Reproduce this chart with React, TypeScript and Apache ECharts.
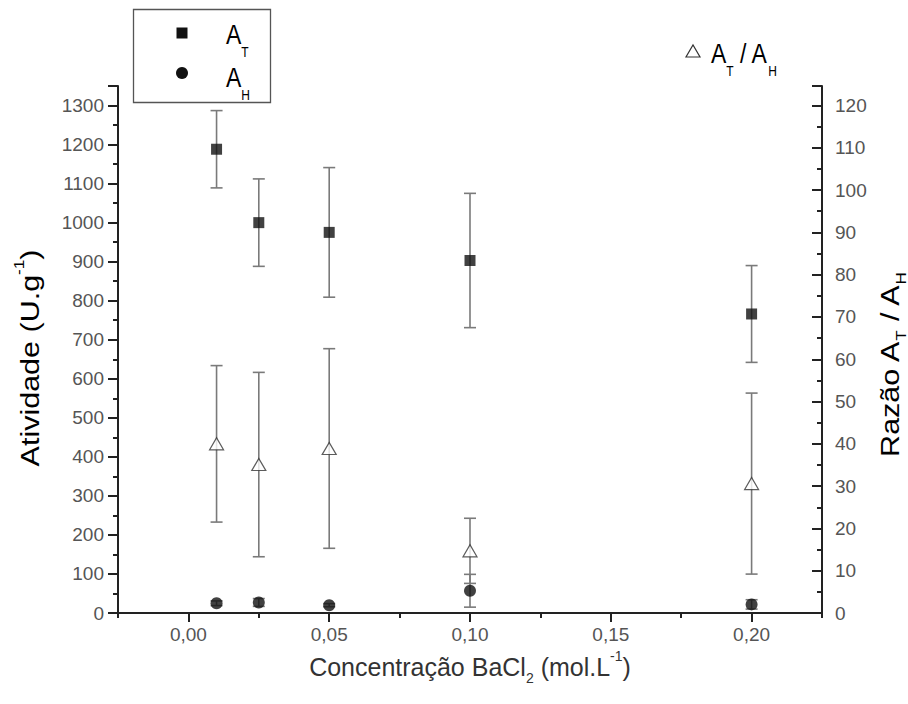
import React, { useEffect, useRef } from 'react';
import * as echarts from 'echarts';

// ---- data ----
const concentrations = [0.01, 0.025, 0.05, 0.1, 0.2];
const atMean = [1188, 1000, 975, 903, 766];
const atErr = [99, 112, 166, 172, 124];
const ahMean = [25, 27, 20, 57, 22];
const ahErr = [6, 10, 4, 42, 12];
const ratioMean = [40, 35.1, 38.9, 14.7, 30.6];
const ratioErr = [18.5, 21.8, 23.6, 7.7, 21.4];

const xTickValues = [0, 0.05, 0.1, 0.15, 0.2];
const xMinorTickValues = [-0.025, 0.025, 0.075, 0.125, 0.175, 0.225];
const xMin = -0.025;
const xMax = 0.225;
const leftMax = 1350;
const leftInterval = 100;
const rightInterval = 10;
const rightMax = (leftMax * 120) / 1300;

const FONT = "'Liberation Sans', Arial, sans-serif";

function errorBars(name: string, mean: number[], err: number[], yAxisIndex: number) {
  return {
    type: 'custom',
    name,
    xAxisIndex: 0,
    yAxisIndex,
    z: 2,
    silent: true,
    data: concentrations.map((c, i) => [c, mean[i] - err[i], mean[i] + err[i]]),
    encode: { x: 0, y: [1, 2] },
    renderItem: (_params: any, api: any) => {
      const x = api.value(0);
      const lo = api.coord([x, api.value(1)]);
      const hi = api.coord([x, api.value(2)]);
      const hw = 6;
      const style = { stroke: '#7a7a7a', lineWidth: 1.6 };
      return {
        type: 'group',
        children: [
          { type: 'line', shape: { x1: lo[0], y1: lo[1], x2: hi[0], y2: hi[1] }, style },
          { type: 'line', shape: { x1: hi[0] - hw, y1: hi[1], x2: hi[0] + hw, y2: hi[1] }, style },
          { type: 'line', shape: { x1: lo[0] - hw, y1: lo[1], x2: lo[0] + hw, y2: lo[1] }, style },
        ],
      };
    },
  };
}

const nameRich = {
  n: { fontSize: 25, lineHeight: 36, fontFamily: FONT, color: '#333' },
  s: { fontSize: 14, lineHeight: 14, verticalAlign: 'bottom', fontFamily: FONT, color: '#333' },
  p: { fontSize: 14, lineHeight: 20, verticalAlign: 'top', fontFamily: FONT, color: '#333' },
};

const legendRich = {
  a: { fontSize: 23, lineHeight: 42, fontFamily: FONT, color: '#222' },
  s: { fontSize: 12, lineHeight: 13, verticalAlign: 'bottom', fontFamily: FONT, color: '#222' },
};

export default function App() {
  const ref = useRef<HTMLDivElement>(null);

  useEffect(() => {
    if (!ref.current) return;
    const chart = echarts.init(ref.current, null, { renderer: 'svg' });
    const axisLineStyle = { color: '#222', width: 2 };
    const labelStyle = { fontFamily: FONT, fontSize: 19, color: '#555' };

    const option: any = {
      animation: false,
      backgroundColor: '#fff',
      grid: { left: 118, right: 86, top: 86, bottom: 91, containLabel: false },
      xAxis: [
        {
          type: 'value',
          min: xMin,
          max: xMax,
          position: 'bottom',
          name: '{n|Concentração BaCl}{s|2}{n| (mol.L}{p|-1}{n|)}',
          nameLocation: 'middle',
          nameGap: 28,
          nameTextStyle: { fontFamily: FONT, fontSize: 25, color: '#333', rich: nameRich },
          axisLine: { show: true, onZero: false, lineStyle: axisLineStyle },
          axisTick: { show: true, inside: false, length: 9, customValues: xTickValues, lineStyle: axisLineStyle },
          axisLabel: {
            ...labelStyle,
            margin: 12,
            customValues: xTickValues,
            formatter: (v: number) => v.toFixed(2).replace('.', ','),
          },
          splitLine: { show: false },
        },
        {
          type: 'value',
          min: xMin,
          max: xMax,
          position: 'bottom',
          axisLine: { show: false, onZero: false },
          axisTick: { show: true, inside: false, length: 5, customValues: xMinorTickValues, lineStyle: axisLineStyle },
          axisLabel: { show: false },
          splitLine: { show: false },
        },
      ],
      yAxis: [
        {
          type: 'value',
          min: 0,
          max: leftMax,
          interval: leftInterval,
          position: 'left',
          axisLine: { show: true, onZero: false, lineStyle: axisLineStyle },
          axisTick: { show: true, inside: false, length: 10, lineStyle: axisLineStyle },
          axisLabel: {
            ...labelStyle,
            margin: 14,
            formatter: (v: number) => (Math.abs(v % leftInterval) < 1e-6 ? String(v) : ''),
          },
          splitLine: { show: false },
        },
        {
          type: 'value',
          min: 0,
          max: rightMax,
          interval: rightInterval,
          position: 'right',
          axisLine: { show: true, onZero: false, lineStyle: axisLineStyle },
          axisTick: { show: true, inside: true, length: 10, lineStyle: axisLineStyle },
          axisLabel: {
            ...labelStyle,
            margin: 13,
            formatter: (v: number) =>
              Math.abs(v - Math.round(v / rightInterval) * rightInterval) < 1e-6 ? String(Math.round(v)) : '',
          },
          splitLine: { show: false },
        },
        {
          type: 'value',
          min: 0,
          max: leftMax,
          interval: leftInterval / 2,
          position: 'left',
          axisLine: { show: false, onZero: false },
          axisTick: { show: true, inside: false, length: 5, lineStyle: axisLineStyle },
          axisLabel: { show: false },
          splitLine: { show: false },
        },
        {
          type: 'value',
          min: 0,
          max: rightMax,
          interval: rightInterval / 2,
          position: 'right',
          axisLine: { show: false, onZero: false },
          axisTick: { show: true, inside: true, length: 5, lineStyle: axisLineStyle },
          axisLabel: { show: false },
          splitLine: { show: false },
        },
      ],
      series: [
        errorBars('AT error', atMean, atErr, 0),
        errorBars('AH error', ahMean, ahErr, 0),
        errorBars('AT/AH error', ratioMean, ratioErr, 1),
        {
          type: 'scatter',
          name: 'AT',
          xAxisIndex: 0,
          yAxisIndex: 0,
          z: 5,
          symbol: 'rect',
          symbolSize: 11,
          itemStyle: { color: '#111' },
          data: concentrations.map((c, i) => [c, atMean[i]]),
        },
        {
          type: 'scatter',
          name: 'AH',
          xAxisIndex: 0,
          yAxisIndex: 0,
          z: 5,
          symbol: 'circle',
          symbolSize: 12,
          itemStyle: { color: '#111' },
          data: concentrations.map((c, i) => [c, ahMean[i]]),
        },
        {
          type: 'scatter',
          name: 'AT/AH',
          xAxisIndex: 0,
          yAxisIndex: 1,
          z: 5,
          symbol: 'triangle',
          symbolSize: [14, 12],
          itemStyle: { color: '#fff', borderColor: '#333', borderWidth: 1.2 },
          data: concentrations.map((c, i) => [c, ratioMean[i]]),
        },
      ],
      graphic: [
        // y-axis titles (rotated, slightly stretched like the reference)
        {
          type: 'text',
          x: 30,
          y: 358,
          rotation: Math.PI / 2,
          scaleX: 1.22,
          style: { text: '{n|Atividade (U.g}{p|-1}{n|)}', rich: nameRich, align: 'center', verticalAlign: 'middle' },
        },
        {
          type: 'text',
          x: 890,
          y: 365,
          rotation: Math.PI / 2,
          scaleX: 1.22,
          style: { text: '{n|Razão A}{s|T}{n| / A}{s|H}', rich: nameRich, align: 'center', verticalAlign: 'middle' },
        },
        // legend
        {
          type: 'rect',
          shape: { x: 133.5, y: 9.5, width: 137, height: 93 },
          style: { fill: '#fff', stroke: '#555', lineWidth: 1.3 },
          z: 10,
        },
        {
          type: 'rect',
          shape: { x: 176.5, y: 27.5, width: 11, height: 11 },
          style: { fill: '#111' },
          z: 11,
        },
        {
          type: 'circle',
          shape: { cx: 182, cy: 73, r: 6 },
          style: { fill: '#111' },
          z: 11,
        },
        {
          type: 'text',
          x: 226,
          y: 34,
          z: 11,
          scaleY: 1.2,
          style: { text: '{a|A}{s|T}', rich: legendRich, align: 'left', verticalAlign: 'middle' },
        },
        {
          type: 'text',
          x: 226,
          y: 77,
          z: 11,
          scaleY: 1.2,
          style: { text: '{a|A}{s|H}', rich: legendRich, align: 'left', verticalAlign: 'middle' },
        },
        {
          type: 'polygon',
          shape: { points: [[686, 57], [700, 57], [693, 45]] },
          style: { fill: '#fff', stroke: '#333', lineWidth: 1.2 },
          z: 11,
        },
        {
          type: 'text',
          x: 711,
          y: 53,
          z: 11,
          scaleY: 1.2,
          style: { text: '{a|A}{s|T}{a| / A}{s|H}', rich: legendRich, align: 'left', verticalAlign: 'middle' },
        },
      ],
    };

    chart.setOption(option);
    return () => chart.dispose();
  }, []);

  return (
    <div
      ref={ref}
      style={{ position: 'absolute', left: 0, top: 0, width: 908, height: 704, background: '#fff' }}
    />
  );
}
